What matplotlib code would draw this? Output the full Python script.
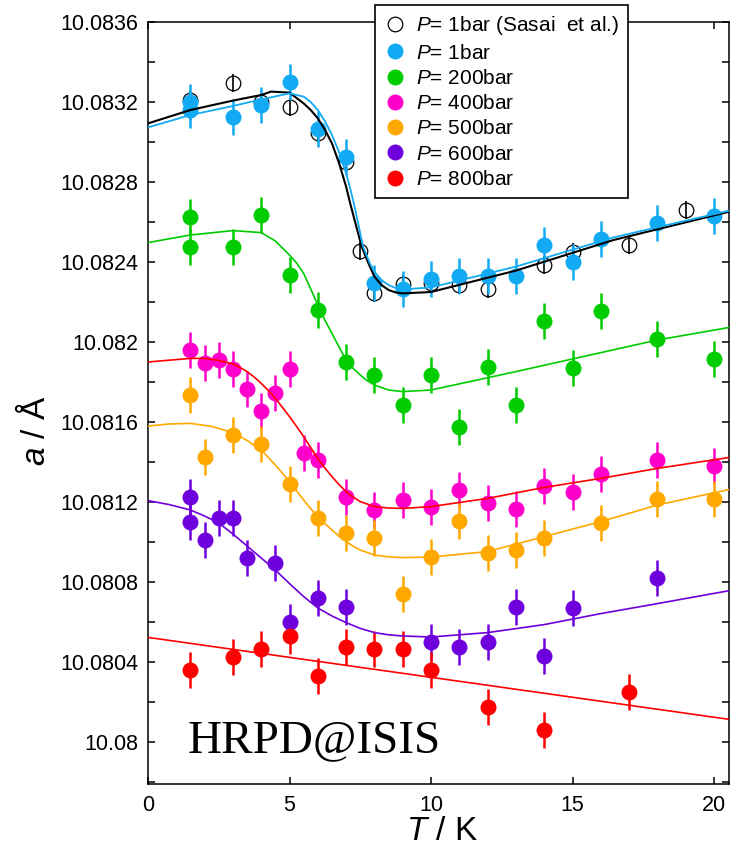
import matplotlib
matplotlib.use("Agg")
import matplotlib.pyplot as plt
from matplotlib.lines import Line2D
from matplotlib.ticker import FixedLocator, FixedFormatter, MultipleLocator

plt.rcParams['font.family'] = ['Liberation Sans', 'DejaVu Sans']
plt.rcParams['mathtext.fontset'] = 'custom'
plt.rcParams['mathtext.it'] = 'Liberation Sans:italic'
plt.rcParams['mathtext.rm'] = 'Liberation Sans'

# ---------------- data ----------------
T_sasai = [1.5, 3, 4, 5, 6, 7, 7.5, 8, 9, 10, 11, 12, 14, 15, 17, 19]
a_sasai = [10.08321, 10.083295, 10.0832, 10.083175, 10.083045, 10.0829, 10.082455,
           10.082245, 10.08229, 10.082295, 10.082285, 10.082265, 10.082385, 10.08245,
           10.082485, 10.08266]

T_1bar = [1.5, 1.5, 3, 4, 5, 6, 7, 8, 9, 10, 11, 12, 13, 14, 15, 16, 18, 20]
a_1bar = [10.0832, 10.08316, 10.083125, 10.083185, 10.0833, 10.083065, 10.082925,
          10.082295, 10.082265, 10.082315, 10.08233, 10.08233, 10.08233, 10.082485,
          10.0824, 10.082515, 10.082595, 10.08263]

T_200 = [1.5, 1.5, 3, 4, 5, 6, 7, 8, 9, 10, 11, 12, 13, 14, 15, 16, 18, 20]
a_200 = [10.082625, 10.082475, 10.082475, 10.082635, 10.082335, 10.08216, 10.0819,
         10.081835, 10.081685, 10.081835, 10.081575, 10.081875, 10.081685, 10.082105,
         10.08187, 10.082155, 10.082015, 10.081915]

T_400 = [1.5, 2, 2.5, 3, 3.5, 4, 4.5, 5, 5.5, 6, 7, 8, 9, 10, 11, 12, 13, 14, 15, 16, 18, 20]
a_400 = [10.08196, 10.081895, 10.08191, 10.081865, 10.081765, 10.081655, 10.081745,
         10.081865, 10.081445, 10.08141, 10.081225, 10.08116, 10.08121, 10.081175,
         10.08126, 10.081195, 10.081165, 10.08128, 10.08125, 10.08134, 10.08141, 10.08138]

T_500 = [1.5, 2, 3, 4, 5, 6, 7, 8, 9, 10, 11, 12, 13, 14, 16, 18, 20]
a_500 = [10.081735, 10.081425, 10.081535, 10.08149, 10.08129, 10.08112, 10.081045,
         10.08102, 10.08074, 10.080925, 10.081105, 10.080945, 10.08096, 10.08102,
         10.081095, 10.081215, 10.081215]

T_600 = [1.5, 1.5, 2, 2.5, 3, 3.5, 4.5, 5, 6, 7, 10, 11, 12, 13, 14, 15, 18]
a_600 = [10.081225, 10.0811, 10.08101, 10.08112, 10.08112, 10.08092, 10.080895,
         10.0806, 10.08072, 10.080675, 10.0805, 10.080475, 10.0805, 10.080675,
         10.08043, 10.08067, 10.08082]

T_800 = [1.5, 3, 4, 5, 6, 7, 8, 9, 10, 12, 14, 17]
a_800 = [10.08036, 10.080425, 10.080465, 10.08053, 10.08033, 10.080475, 10.080465,
         10.080465, 10.08036, 10.080175, 10.08006, 10.08025]

err_sasai = 0.000045
err_data = 0.00009

# fit curves
T_fit_sasai = [0, 1.5, 3, 4, 4.35, 5, 5.5, 5.75, 6, 6.25, 6.5, 6.75, 7, 7.15, 7.3, 7.55,
               7.8, 8, 8.25, 8.5, 8.75, 9, 10, 13, 16.45, 20.55]
a_fit_sasai = [10.083093, 10.08316, 10.083207, 10.083235, 10.083252, 10.083247, 10.083193,
               10.08316, 10.083118, 10.083062, 10.082993, 10.082895, 10.082777, 10.08269,
               10.08261, 10.082477, 10.08239, 10.082327, 10.082285, 10.08226, 10.082248,
               10.082243, 10.08225, 10.082357, 10.08251, 10.082652]

T_fit_1bar = [0, 1.5, 3, 4, 5, 5.5, 5.75, 6, 6.25, 6.5, 6.75, 7, 7.15, 7.3, 7.6, 7.85, 8,
              8.25, 8.5, 8.75, 9, 10, 13, 16.45, 20.55]
a_fit_1bar = [10.083073, 10.083135, 10.08318, 10.083213, 10.083243, 10.083227, 10.0832,
              10.08316, 10.083105, 10.083035, 10.08295, 10.082843, 10.082765, 10.082677,
              10.082477, 10.08239, 10.082352, 10.08231, 10.082285, 10.08227, 10.082263,
              10.082273, 10.082377, 10.082523, 10.082657]

T_fit_200 = [0, 1.5, 3, 4, 4.5, 5, 5.25, 5.5, 5.75, 6, 6.25, 6.5, 6.75, 7, 7.25, 7.5, 7.75,
             8, 8.5, 9, 10, 13, 18, 20.55]
a_fit_200 = [10.082497, 10.082535, 10.082557, 10.082547, 10.082505, 10.082435, 10.082395,
             10.082343, 10.082265, 10.082185, 10.08211, 10.082043, 10.081975, 10.08191,
             10.081868, 10.081835, 10.081806, 10.081785, 10.08176, 10.081752, 10.08176,
             10.081852, 10.08201, 10.082073]

T_fit_400 = [0, 1.5, 2, 2.5, 3, 3.25, 3.5, 3.75, 4, 4.25, 4.5, 4.75, 5, 5.25, 5.5, 5.75, 6,
             6.25, 6.5, 6.75, 7, 7.25, 7.5, 8, 8.5, 9, 10, 12, 14, 16, 18, 20.55]
a_fit_400 = [10.0819, 10.081918, 10.081918, 10.081908, 10.08189, 10.081873, 10.081852,
             10.081825, 10.081793, 10.081758, 10.081718, 10.081673, 10.081627, 10.081578,
             10.081527, 10.081472, 10.081418, 10.08137, 10.081327, 10.081287, 10.081252,
             10.081225, 10.081202, 10.081177, 10.08117, 10.081168, 10.081177, 10.081218,
             10.081273, 10.081318, 10.081368, 10.081423]

T_fit_500 = [0, 0.75, 1.5, 2.25, 3, 3.5, 4, 4.25, 4.5, 4.75, 5, 5.25, 5.5, 5.75, 6, 6.25,
             6.5, 6.75, 7, 7.25, 7.5, 8, 8.5, 9, 10, 12, 14, 16, 18, 20.55]
a_fit_500 = [10.08158, 10.08159, 10.081593, 10.081578, 10.081547, 10.081508, 10.08146,
             10.081423, 10.081385, 10.081344, 10.081302, 10.081256, 10.08121, 10.081167,
             10.081127, 10.081092, 10.08106, 10.081029, 10.081002, 10.080979, 10.08096,
             10.080935, 10.080926, 10.080922, 10.080925, 10.080952, 10.081027, 10.081102,
             10.081185, 10.081263]

T_fit_600 = [0, 0.75, 1.5, 2, 2.5, 3, 3.5, 4, 4.5, 5, 5.5, 6, 6.5, 7, 7.5, 8, 8.5, 9, 10,
             12, 14, 16, 18, 20.55]
a_fit_600 = [10.081207, 10.081187, 10.08116, 10.08113, 10.081095, 10.08104, 10.08098,
             10.08092, 10.08086, 10.080792, 10.080727, 10.08067, 10.08063, 10.080597,
             10.080568, 10.080547, 10.080536, 10.08053, 10.080525, 10.080547, 10.080587,
             10.080642, 10.080692, 10.080757]

T_fit_800 = [0, 20.55]
a_fit_800 = [10.080523, 10.080113]

labels = [r'$P$= 1bar (Sasai  et al.)', r'$P$= 1bar', r'$P$= 200bar', r'$P$= 400bar',
          r'$P$= 500bar', r'$P$= 600bar', r'$P$= 800bar']

y_ticks = [10.08, 10.0804, 10.0808, 10.0812, 10.0816, 10.082, 10.0824, 10.0828, 10.0832, 10.0836]
y_tick_labels = ['10.08', '10.0804', '10.0808', '10.0812', '10.0816', '10.082',
                 '10.0824', '10.0828', '10.0832', '10.0836']
x_ticks = [0, 5, 10, 15, 20]

# ---------------- style ----------------
c_blue = '#12AAF2'
c_green = '#00CC00'
c_mag = '#FF00CC'
c_orange = '#FFA800'
c_purple = '#6E00DE'
c_red = '#FF0000'

W, H = 743, 851
fig = plt.figure(figsize=(W / 100, H / 100), dpi=100)
ax = fig.add_axes([148 / W, 1 - 784 / H, (729 - 148) / W, (784 - 22) / H])
ax.set_xlim(0, 20.53)
ax.set_ylim(10.07979, 10.0836)

ms = 11.5
series = [
    (T_1bar, a_1bar, c_blue),
    (T_200, a_200, c_green),
    (T_400, a_400, c_mag),
    (T_500, a_500, c_orange),
    (T_600, a_600, c_purple),
    (T_800, a_800, c_red),
]

# Sasai open circles
ax.errorbar(T_sasai, a_sasai, yerr=err_sasai, fmt='o', ms=ms - 1, mfc='none', mec='black',
            mew=0.9, ecolor='black', elinewidth=1.2, capsize=0, zorder=2)
for T, a, c in series:
    ax.errorbar(T, a, yerr=err_data, fmt='o', ms=ms, mfc=c, mec=c, mew=0, ecolor=c,
                elinewidth=1.8, capsize=0, zorder=3)

fits = [
    (T_fit_sasai, a_fit_sasai, 'black', 1.5),
    (T_fit_1bar, a_fit_1bar, c_blue, 1.3),
    (T_fit_200, a_fit_200, c_green, 1.2),
    (T_fit_400, a_fit_400, c_red, 1.2),
    (T_fit_500, a_fit_500, c_orange, 1.2),
    (T_fit_600, a_fit_600, c_purple, 1.2),
    (T_fit_800, a_fit_800, c_red, 1.2),
]
for T, a, c, lw in fits:
    ax.plot(T, a, color=c, lw=lw, zorder=4, solid_joinstyle='round')

# axes styling
for s in ax.spines.values():
    s.set_linewidth(1.1)
ax.xaxis.set_major_locator(FixedLocator(x_ticks))
ax.yaxis.set_major_locator(FixedLocator(y_ticks))
ax.yaxis.set_major_formatter(FixedFormatter(y_tick_labels))
ax.yaxis.set_minor_locator(MultipleLocator(0.0002))
ax.tick_params(axis='both', which='both', direction='in', top=True, right=True,
               width=1.1, labelsize=15.5)
ax.tick_params(axis='both', which='major', length=5)
ax.tick_params(axis='y', which='minor', length=5)
ax.tick_params(axis='x', which='major', pad=8)
ax.tick_params(axis='y', which='major', pad=7)

fig.text(35 / W, 1 - 431 / H, r'$a$ / Å', rotation=90, ha='center', va='center', size=24)
fig.text(442 / W, 1 - 832 / H, r'$T$ / K', ha='center', va='center', size=24)
fig.text(188 / W, 1 - 752 / H, 'HRPD@ISIS', family='Liberation Serif', size=34, va='baseline')

# legend
handles = [Line2D([], [], ls='none', marker='o', ms=ms - 1, mfc='none', mec='black', mew=0.9)]
for _, _, c in series:
    handles.append(Line2D([], [], ls='none', marker='o', ms=ms, mfc=c, mec=c, mew=0))
leg = fig.legend(handles, labels, loc='upper left', bbox_to_anchor=(375 / W, 1 - 5 / H),
                 bbox_transform=fig.transFigure, fontsize=15, frameon=True, fancybox=False,
                 edgecolor='black', framealpha=1, borderpad=0.45, labelspacing=0.3,
                 handlelength=1.0, handletextpad=0.5, borderaxespad=0, numpoints=1)
leg.get_frame().set_linewidth(1.2)
leg.set_zorder(10)

fig.savefig('out.png', dpi=100)
